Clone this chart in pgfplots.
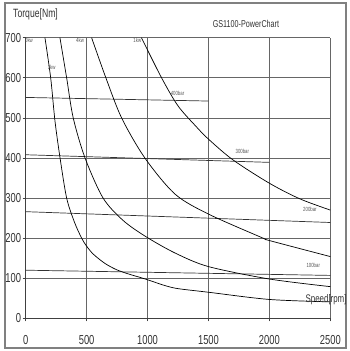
\documentclass[border=0pt]{standalone}
\usepackage{fontspec}
\setmainfont{Liberation Sans}[FakeStretch=0.72]
\usepackage{pgfplots}
\pgfplotsset{compat=1.18}
\definecolor{gridc}{HTML}{666666}
\definecolor{labc}{HTML}{555555}
\begin{document}
\begin{tikzpicture}[x=1pt,y=1pt]
\path[use as bounding box] (-25.7,-32.7) rectangle (323.3,318.3);
\draw[black!50, line width=1.5pt] (-20.7,315.3) rectangle (320.3,-29.7);
\begin{axis}[
  at={(0,0)}, anchor=south west,
  scale only axis, width=304.6pt, height=280.6pt,
  xmin=0, xmax=2500, ymin=0, ymax=700,
  axis x line*=bottom, axis y line*=left,
  axis line style={black!75, line width=0.8pt},
  xtick={0,500,1000,1500,2000,2500},
  ytick={0,100,200,300,400,500,600,700},
  grid=major,
  major grid style={gridc, line width=0.7pt},
  tick align=outside, major tick length=3pt,
  tick style={black!75, line width=0.7pt},
  /pgf/number format/assume math mode=true,
  /pgf/number format/1000 sep={},
  ticklabel style={font=\fontsize{13}{13}\selectfont, text=black!80},
  xticklabel style={inner sep=0pt, anchor=north, yshift=-14pt},
  yticklabel style={inner sep=0pt, anchor=east, xshift=-1.5pt},
  clip=false,
]
% pressure lines
\addplot[black!80, line width=0.7pt] coordinates {(0,551) (1500,542)};
\addplot[black!80, line width=0.7pt] coordinates {(0,408) (2000,389)};
\addplot[black!80, line width=0.7pt] coordinates {(0,266) (2500,239)};
\addplot[black!80, line width=0.7pt] coordinates {(0,120) (2500,107)};
% power curves
\addplot[black, line width=0.7pt, smooth] coordinates {
(158,700) (205,600) (240,493) (282,400) (336,300) (400,240) (459,200) (500,180)
(555,160) (650,137) (747,121) (850,110) (950,101) (1050,91) (1150,81) (1250,74) (1500,65) (2000,47) (2500,41)};
\addplot[black, line width=0.7pt, smooth] coordinates {
(281,700) (336,600) (390,500) (487,400) (635,300) (800,244)
(985,204) (1225,163) (1500,129) (2000,98) (2500,79)};
\addplot[black, line width=0.7pt, smooth] coordinates {
(541,700) (658,600) (787,500) (978,400) (1225,310) (1500,260) (1948,200) (2000,194) (2500,154)};
\addplot[black, line width=0.7pt, smooth] coordinates {
(950,700) (1115,600) (1250,530) (1400,478) (1500,447) (1702,395) (2000,337) (2250,298) (2500,270)};
% labels
\node[font=\fontsize{6}{6}\selectfont, text=labc] at (axis cs:27,694) {0kw};
\node[font=\fontsize{6}{6}\selectfont, text=labc] at (axis cs:213,626) {3kw};
\node[font=\fontsize{6}{6}\selectfont, text=labc] at (axis cs:446,694) {4kw};
\node[font=\fontsize{6}{6}\selectfont, text=labc] at (axis cs:916,694) {1kw};
\node[font=\fontsize{6}{6}\selectfont, text=labc] at (axis cs:1246,561) {400bar};
\node[font=\fontsize{6}{6}\selectfont, text=labc] at (axis cs:1778,417) {300bar};
\node[font=\fontsize{6}{6}\selectfont, text=labc] at (axis cs:2333,273) {200bar};
\node[font=\fontsize{6}{6}\selectfont, text=labc] at (axis cs:2360,131) {100bar};
\node[font=\fontsize{12}{12}\selectfont, text=black!80, anchor=west, inner sep=0pt] at (axis cs:-104,757) {Torque[Nm]};
\node[font=\fontsize{10}{10}\selectfont, text=black!80] at (axis cs:1808,734) {GS1100-PowerChart};
\node[font=\fontsize{11}{11}\selectfont, text=black!80, anchor=east, inner sep=0pt] at (axis cs:2635,46) {Speed[rpm]};
\end{axis}
\end{tikzpicture}
\end{document}
